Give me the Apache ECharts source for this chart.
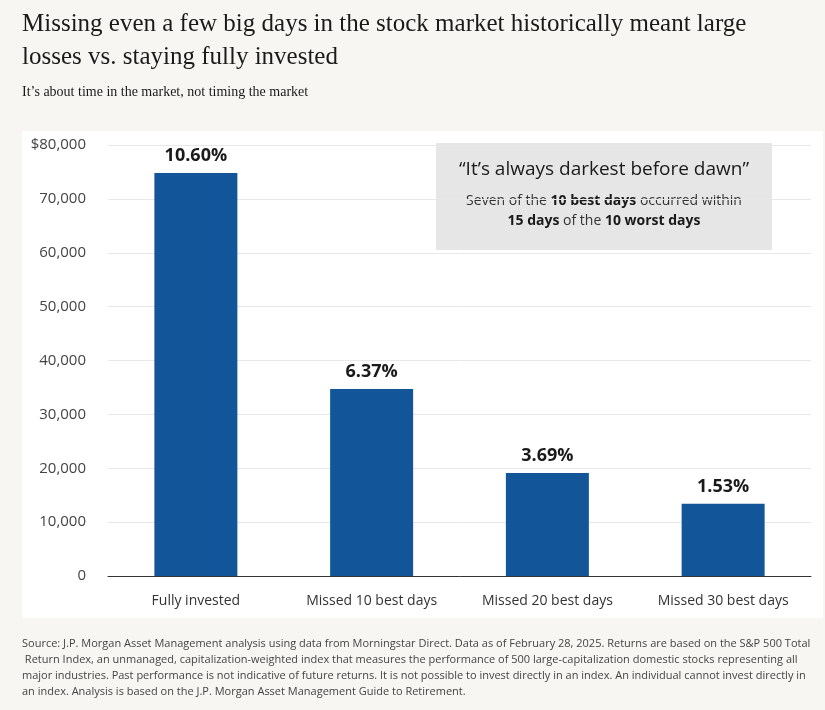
<!DOCTYPE html>
<html>
<head>
<meta charset="utf-8">
<script src="https://cdn.jsdelivr.net/npm/echarts@6/dist/echarts.min.js"></script>
<style>
  html, body { margin: 0; padding: 0; background: #f7f6f2; }
  #chart { width: 825px; height: 710px; }
</style>
</head>
<body>
<div id="chart"></div>
<script>
const categories = ["Fully invested", "Missed 10 best days", "Missed 20 best days", "Missed 30 best days"];
const values = [74800, 34700, 19100, 13400];
const returns = ["10.60%", "6.37%", "3.69%", "1.53%"];
const yTicks = [0, 10000, 20000, 30000, 40000, 50000, 60000, 70000, 80000];

const sans = "'Open Sans', 'Noto Sans', sans-serif";
const serif = "'Liberation Serif', 'DejaVu Serif', serif";

const chart = echarts.init(document.getElementById("chart"), null, { renderer: "canvas" });

const footnote = "Source: J.P. Morgan Asset Management analysis using data from Morningstar Direct. Data as of February 28, 2025. Returns are based on the S&P 500 Total Return Index, an unmanaged, capitalization-weighted index that measures the performance of 500 large-capitalization domestic stocks representing all major industries. Past performance is not indicative of future returns. It is not possible to invest directly in an index. An individual cannot invest directly in an index. Analysis is based on the J.P. Morgan Asset Management Guide to Retirement.";

chart.setOption({
  backgroundColor: "#f7f6f2",
  animation: false,
  graphic: [
    { type: "rect", left: 22, top: 131, shape: { width: 801, height: 487 }, style: { fill: "#ffffff" }, z: -10 },
    { type: "text", left: 22, top: 8, style: { text: "Missing even a few big days in the stock market historically meant large\nlosses vs. staying fully invested", font: "25px " + serif, fill: "#1a1a1a", lineHeight: 33 } },
    { type: "text", left: 22, top: 85, style: { text: "It\u2019s about time in the market, not timing the market", font: "14px " + serif, fill: "#1a1a1a" } },
    { type: "rect", left: 436, top: 143, shape: { width: 336, height: 107 }, style: { fill: "#e6e6e6" } },
    { type: "text", x: 604, y: 160, style: { text: "\u201cIt\u2019s always darkest before dawn\u201d", font: "19px " + sans, fill: "#1a1a1a", align: "center" } },
    { type: "text", x: 604, y: 191, style: {
      text: "Seven of the {b|10 best days} occurred within\n{b|15 days} of the {b|10 worst days}",
      fontSize: 14, fontFamily: sans, fill: "#333", align: "center", lineHeight: 20,
      rich: { b: { fontWeight: "bold", fontFamily: sans, fontSize: 14, lineHeight: 20, fill: "#1a1a1a" } }
    } },
    { type: "text", left: 22, top: 636, style: { text: footnote, font: "11px " + sans, fill: "#444", width: 790, overflow: "break", lineHeight: 16 } }
  ],
  grid: { left: 108, right: 14, top: 145, bottom: 134 },
  xAxis: {
    type: "category",
    data: categories,
    axisLine: { lineStyle: { color: "#333", width: 1 } },
    axisTick: { show: false },
    axisLabel: { color: "#333", fontSize: 14, fontFamily: sans, margin: 18 }
  },
  yAxis: {
    type: "value",
    min: 0, max: 80000, interval: 10000,
    axisLine: { show: false },
    axisTick: { show: false },
    splitLine: { lineStyle: { color: "#e8e8e8" } },
    axisLabel: {
      color: "#444", fontSize: 15, fontFamily: sans, margin: 22,
      formatter: v => yTicks.includes(v) ? (v === 80000 ? "$" : "") + (v === 0 ? "0" : v.toLocaleString("en-US")) : ""
    }
  },
  series: [{
    type: "bar",
    data: values,
    barWidth: 83,
    itemStyle: { color: "#125699" },
    label: {
      show: true, position: "top", distance: 8,
      formatter: p => returns[p.dataIndex],
      fontSize: 18, fontWeight: "bold", fontFamily: sans, color: "#1a1a1a"
    }
  }]
});
</script>
</body>
</html>
